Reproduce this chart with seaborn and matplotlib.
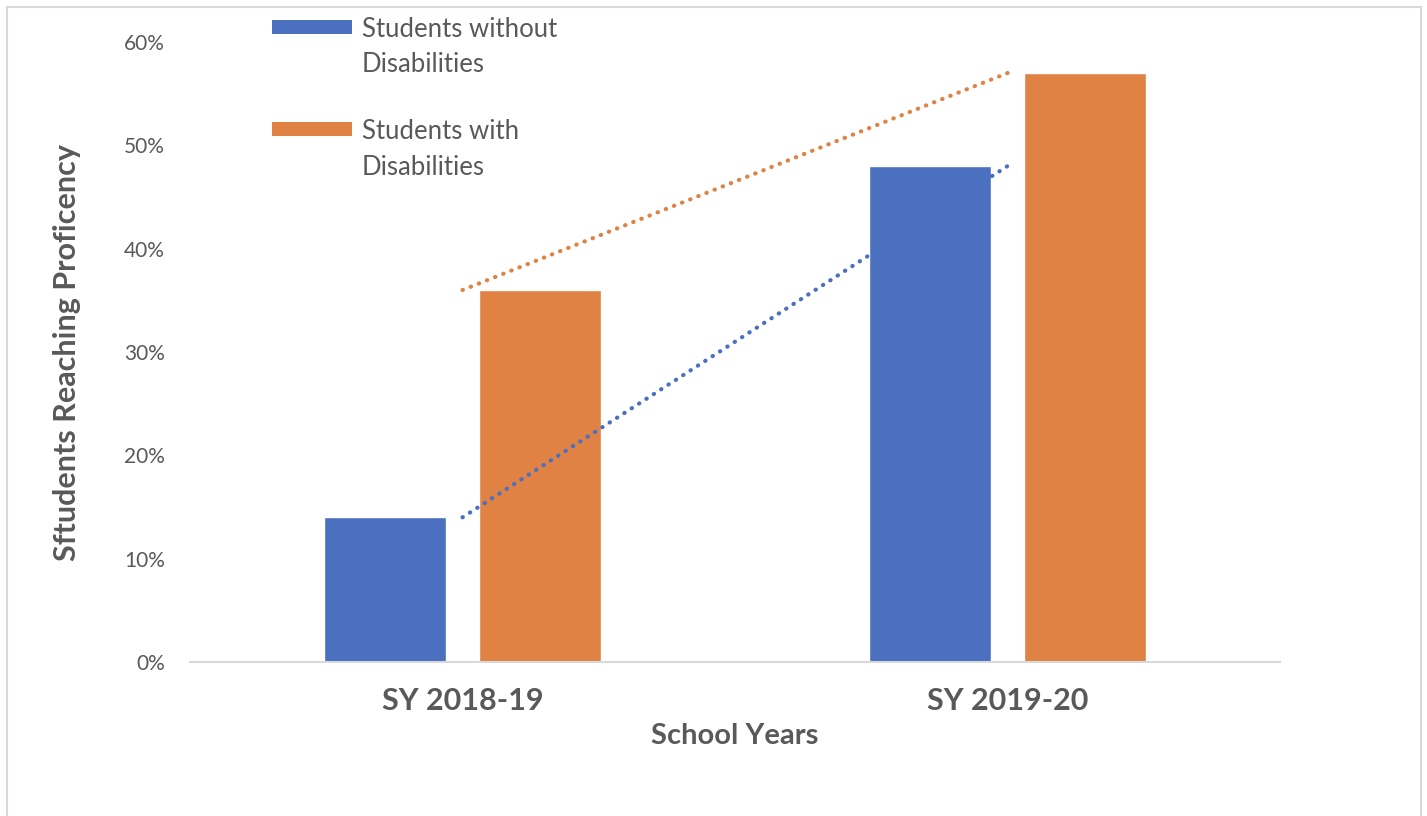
import matplotlib
matplotlib.use("Agg")
import matplotlib.pyplot as plt
import seaborn as sns
import pandas as pd
from matplotlib.patches import Patch, Rectangle
from matplotlib.legend_handler import HandlerPatch
from matplotlib.ticker import FuncFormatter

# ---- data ----
years = ["SY 2018-19", "SY 2019-20"]
groups = ["Students without\nDisabilities", "Students with\nDisabilities"]
without_dis = [0.14, 0.48]
with_dis = [0.36, 0.57]
y_ticks = [0.0, 0.1, 0.2, 0.3, 0.4, 0.5, 0.6]

colors = ["#4A70BF", "#DF8243"]
text_gray = "#595959"
axis_gray = "#D9D9D9"

df = pd.DataFrame({
    "year": years * 2,
    "group": [groups[0]] * len(years) + [groups[1]] * len(years),
    "value": without_dis + with_dis,
})

sns.set_theme(style="white")
plt.rcParams["font.family"] = ["Lato", "DejaVu Sans"]

fig = plt.figure(figsize=(14.27, 8.16), dpi=100)
ax = fig.add_axes([0.1331, 0.1887, 0.7640, 0.7598])

sns.barplot(data=df, x="year", y="value", hue="group", order=years,
            hue_order=groups, palette=colors, width=0.569, gap=0.21,
            saturation=1, legend=False, ax=ax)

# trend lines (linear over the two points)
xs = list(range(len(years)))
for vals, c in [(without_dis, colors[0]), (with_dis, colors[1])]:
    ax.plot(xs, vals, color=c, linewidth=3, linestyle=(0, (0.1, 2.0)),
            dash_capstyle="round", zorder=5)

ax.set_xlim(-0.5, len(years) - 0.5)
ax.set_ylim(0, 0.6)
ax.set_yticks(y_ticks)
ax.yaxis.set_major_formatter(FuncFormatter(lambda v, p: f"{v*100:.0f}%"))

for s in ["top", "right", "left"]:
    ax.spines[s].set_visible(False)
ax.spines["bottom"].set_color(axis_gray)
ax.spines["bottom"].set_linewidth(1.5)

ax.set_xticks(xs)
ax.set_xticks([-0.5, 0.5, 1.5], minor=True)
ax.tick_params(axis="x", which="major", length=0, pad=18, labelsize=22,
               labelcolor=text_gray)
ax.tick_params(axis="x", which="minor", length=6, width=1.5, color=axis_gray,
               direction="out")
ax.tick_params(axis="y", length=0, pad=18, labelsize=15, labelcolor=text_gray)
for lab in ax.get_xticklabels():
    lab.set_fontweight("bold")

ax.set_xlabel("School Years", fontsize=21, fontweight="bold", color=text_gray,
              labelpad=6)
ax.set_ylabel("Sftudents Reaching Proficency", fontsize=22, fontweight="bold",
              color=text_gray, labelpad=31)


def top_patch(legend, orig_handle, xdescent, ydescent, width, height, fontsize):
    # swatch aligned with the first line of a two-line label
    return Rectangle((-xdescent, fontsize * 0.9), width, fontsize * 0.545)


LEG_FS = 18.5
handles = [Patch(facecolor=c, edgecolor="none") for c in colors]
leg = ax.legend(handles, groups, loc="upper left",
                bbox_to_anchor=(0.075, 1.041), frameon=False, fontsize=LEG_FS,
                handlelength=3.11, handleheight=0.7, handletextpad=0.39,
                labelspacing=1.64, borderaxespad=0, borderpad=0,
                handler_map={Patch: HandlerPatch(patch_func=top_patch)})
for t in leg.get_texts():
    t.set_color(text_gray)
    t.set_linespacing(1.52)

# outer chart border
fig.patches.append(Rectangle((7 / 1427, -0.01), 1414 / 1427, 1 - 7 / 816 + 0.01,
                             transform=fig.transFigure, fill=False,
                             edgecolor=axis_gray, linewidth=1.5))

fig.savefig("out.png", dpi=100)
